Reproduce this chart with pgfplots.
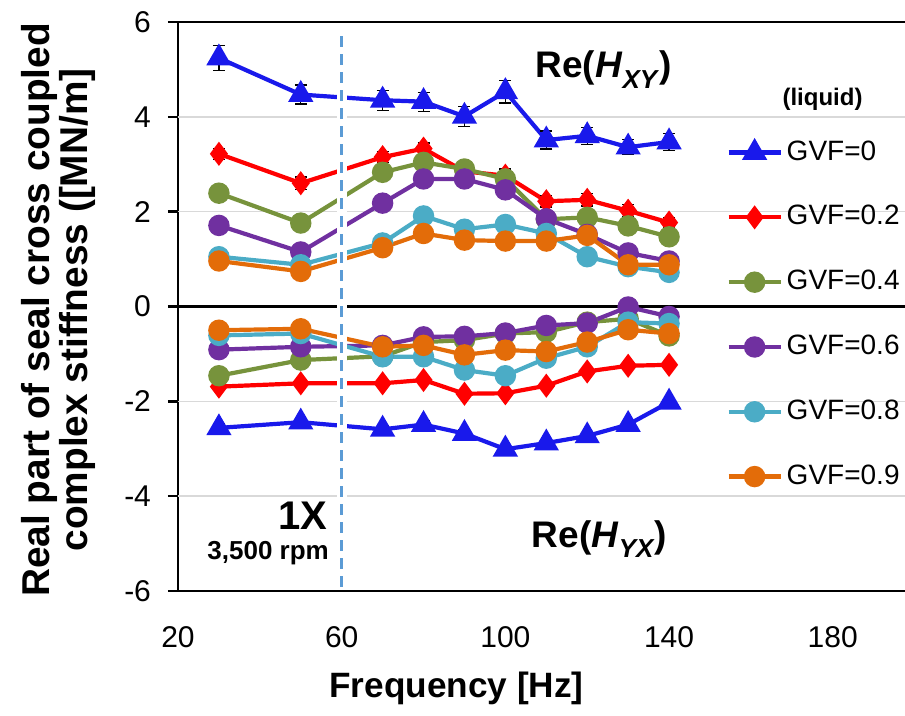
\documentclass[border=0pt]{standalone}
\usepackage{pgfplots}
\usepackage{pgfplotstable}
\usepackage{fontspec}
\setmainfont{Liberation Sans}
\pgfplotsset{compat=1.18}

\definecolor{cBlue}{RGB}{25,25,235}
\definecolor{cRed}{RGB}{255,0,0}
\definecolor{cGreen}{RGB}{119,147,60}
\definecolor{cPurple}{RGB}{112,48,160}
\definecolor{cCyan}{RGB}{75,172,198}
\definecolor{cOrange}{RGB}{227,108,9}
\definecolor{cDash}{RGB}{91,155,213}

% Re(H_XY): upper branch, Re(H_YX): lower branch
\pgfplotstableread{
x   bu    bue   ru    rue   gu    pu    cu    ou    bl     ble   rl     gl     pl     cl     ol
30  5.24  0.27  3.22  0.12  2.39  1.71  1.05  0.96  -2.56  0.08  -1.69  -1.46  -0.91  -0.61  -0.50
50  4.47  0.20  2.60  0.13  1.76  1.15  0.88  0.74  -2.44  0.08  -1.62  -1.13  -0.85  -0.57  -0.47
70  4.35  0.21  3.15  0.12  2.83  2.18  1.34  1.24  -2.59  0.08  -1.62  -1.05  -0.82  -1.06  -0.85
80  4.32  0.20  3.33  0.12  3.04  2.69  1.91  1.54  -2.49  0.08  -1.55  -0.75  -0.64  -1.06  -0.82
90  4.01  0.21  2.85  0.12  2.90  2.69  1.63  1.40  -2.68  0.08  -1.84  -0.71  -0.63  -1.34  -1.02
100 4.53  0.24  2.76  0.14  2.69  2.46  1.73  1.38  -3.01  0.08  -1.83  -0.57  -0.56  -1.46  -0.92
110 3.51  0.19  2.22  0.12  1.84  1.85  1.54  1.38  -2.88  0.08  -1.67  -0.54  -0.40  -1.09  -0.95
120 3.60  0.18  2.25  0.13  1.88  1.52  1.05  1.50  -2.73  0.08  -1.37  -0.33  -0.35  -0.85  -0.75
130 3.36  0.16  2.02  0.13  1.70  1.13  0.84  0.88  -2.49  0.08  -1.25  -0.26  -0.01  -0.33  -0.49
140 3.47  0.18  1.77  0.11  1.47  0.96  0.72  0.88  -2.02  0.08  -1.23  -0.62  -0.21  -0.36  -0.57
}\stiff

\newcommand{\subsc}[1]{\raisebox{-0.28em}{\fontsize{13}{15}\selectfont #1}}

\begin{document}
\begin{tikzpicture}
\begin{axis}[
  scale only axis,
  width=368.3pt, height=284.5pt,
  xmin=20, xmax=200, ymin=-6, ymax=6,
  axis line style={black, line width=1.3pt},
  xtick={20,60,100,140,180},
  xticklabels={20,60,100,140,180},
  ytick={-6,-4,-2,0,2,4,6},
  yticklabels={-6,-4,-2,0,2,4,6},
  xtick style={draw=none},
  ytick pos=left,
  ytick align=outside,
  ytick style={black, line width=1.3pt},
  major tick length=5pt,
  tick label style={font=\fontsize{15}{18}\selectfont},
  yticklabel style={xshift=-5pt},
  xticklabel style={yshift=-14pt},
  xlabel={\textbf{Frequency [Hz]}},
  xlabel style={font=\fontsize{17.6}{21}\selectfont, at={(axis description cs:0.378,-0.172)}, anchor=center},
  ylabel={\textbf{Real part of seal cross coupled}\\\textbf{complex stiffness ([MN/m]}},
  ylabel style={font=\fontsize{19.4}{17.5}\selectfont, align=center, at={(axis description cs:-0.162,0.494)}, anchor=center},
  clip=false,
  every axis plot/.append style={line width=2.1pt},
  legend style={draw=none, fill=none, at={(axis description cs:0.736,0.809)}, anchor=north west,
    font=\fontsize{14}{17}\selectfont, row sep=14.9pt,
    nodes={inner sep=2pt, text height=10.5pt, text depth=3pt}},
  legend cell align=left,
  legend image code/.code={
    \draw[mark repeat=2, mark phase=2, #1] plot coordinates {(0pt,0pt) (13pt,0pt) (26pt,0pt)};
  },
  error bars/y dir=both,
  error bars/y explicit,
  error bars/error bar style={black, line width=0.6pt},
  error bars/error mark options={rotate=90, mark size=3pt, black, line width=0.6pt},
]
% light horizontal grid and the zero line
\foreach \yy in {-4,-2,2,4} {
  \edef\tmp{\noexpand\draw[black!15, line width=0.8pt] (axis cs:20,\yy) -- (axis cs:200,\yy);}
  \tmp
}
\draw[black, line width=1.3pt] (axis cs:20,0) -- (axis cs:200,0);

% upper branch Re(H_XY)
\addplot[cBlue, mark=triangle*, mark size=5.2pt, mark options={solid}]
  table[x=x, y=bu, y error=bue] {\stiff};
\addlegendentry{GVF=0}
\addplot[cRed, mark=diamond*, mark size=4.3pt]
  table[x=x, y=ru, y error=rue] {\stiff};
\addlegendentry{GVF=0.2}
\addplot[cGreen, mark=*, mark size=4.3pt, error bars/y dir=none]
  table[x=x, y=gu] {\stiff};
\addlegendentry{GVF=0.4}
\addplot[cPurple, mark=*, mark size=4.3pt, error bars/y dir=none]
  table[x=x, y=pu] {\stiff};
\addlegendentry{GVF=0.6}
\addplot[cCyan, mark=*, mark size=4.3pt, error bars/y dir=none]
  table[x=x, y=cu] {\stiff};
\addlegendentry{GVF=0.8}
\addplot[cOrange, mark=*, mark size=4.3pt, error bars/y dir=none]
  table[x=x, y=ou] {\stiff};
\addlegendentry{GVF=0.9}

% lower branch Re(H_YX)
\addplot[cBlue, mark=triangle*, mark size=5.2pt, forget plot]
  table[x=x, y=bl, y error=ble] {\stiff};
\addplot[cRed, mark=diamond*, mark size=4.3pt, forget plot, error bars/y dir=none]
  table[x=x, y=rl] {\stiff};
\addplot[cGreen, mark=*, mark size=4.3pt, forget plot, error bars/y dir=none]
  table[x=x, y=gl] {\stiff};
\addplot[cPurple, mark=*, mark size=4.3pt, forget plot, error bars/y dir=none]
  table[x=x, y=pl] {\stiff};
\addplot[cCyan, mark=*, mark size=4.3pt, forget plot, error bars/y dir=none]
  table[x=x, y=cl] {\stiff};
\addplot[cOrange, mark=*, mark size=4.3pt, forget plot, error bars/y dir=none]
  table[x=x, y=ol] {\stiff};

% 1X running speed marker
\draw[white, line width=5pt] (axis cs:60,-5.9) -- (axis cs:60,5.85);
\draw[cDash, line width=1.6pt, dash pattern=on 5.5pt off 3.5pt] (axis cs:60,5.7) -- (axis cs:60,-6);

\node[font=\fontsize{18.5}{22}\selectfont\bfseries] at (axis cs:124,5.0) {Re(\textit{H}\subsc{\textit{XY}})};
\node[font=\fontsize{18.5}{22}\selectfont\bfseries] at (axis cs:123,-4.9) {Re(\textit{H}\subsc{\textit{YX}})};
\node[font=\bfseries\fontsize{12}{14}\selectfont] at (axis cs:177.5,4.36) {(liquid)};
\node[font=\fontsize{20}{24}\selectfont\bfseries, anchor=east] at (axis cs:58.3,-4.42) {1X};
\node[font=\fontsize{13}{15}\selectfont\bfseries, anchor=east] at (axis cs:58.6,-5.2) {3,500 rpm};
\end{axis}
% top and bottom frame lines of the plot area
\draw[black, line width=1.3pt] (-0.65pt,0pt) -- (368.3pt,0pt);
\draw[black, line width=1.3pt] (-0.65pt,284.5pt) -- (368.3pt,284.5pt);
\pgfresetboundingbox
\path[use as bounding box] (-89pt,-62.5pt) rectangle (363.5pt,295.5pt);
\end{tikzpicture}
\end{document}
